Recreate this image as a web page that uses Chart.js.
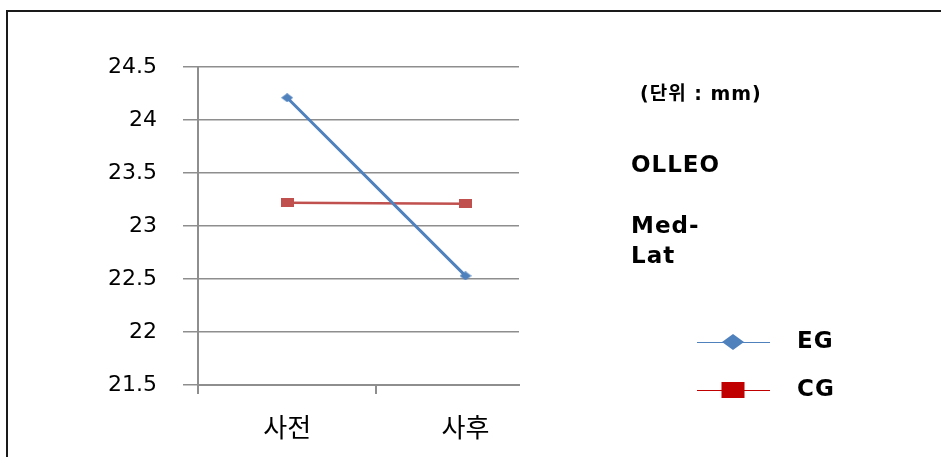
<!DOCTYPE html>
<html>
<head>
<meta charset="utf-8">
<script src="https://cdn.jsdelivr.net/npm/chart.js@4"></script>
<style>
  html, body { margin: 0; padding: 0; background: #fff; }
  #wrap { position: relative; width: 941px; height: 457px; overflow: hidden; }
  #frame { position: absolute; left: 6px; top: 10px; right: -10px; bottom: -10px;
           border-left: 2px solid #1a1a1a; border-top: 2px solid #1a1a1a; }
  #c { position: absolute; left: 0; top: 0; }
</style>
</head>
<body>
<div id="wrap">
  <div id="frame"></div>
  <canvas id="c" width="941" height="457"></canvas>
</div>
<script>
// ---- data ----
const categories = ['사전', '사후'];
const seriesNames = ['EG', 'CG'];
const egValues = [24.21, 22.53];
const cgValues = [23.22, 23.21];
const yTicks = [21.5, 22, 22.5, 23, 23.5, 24, 24.5];
const notes = ['(단위 : mm)', 'OLLEO', 'Med-', 'Lat'];

const blue = '#4F81BD';
const red = '#C0504D';
const legendRed = '#C00000';
const gridGray = '#8e8e8e';
const fontFam = "'DejaVu Sans', 'Noto Sans CJK KR', sans-serif";

function marker(w, h, color, shape) {
  const cv = document.createElement('canvas');
  cv.width = w; cv.height = h;
  const g = cv.getContext('2d');
  g.fillStyle = color;
  if (shape === 'diamond') {
    g.beginPath();
    g.moveTo(w / 2, 0); g.lineTo(w, h / 2); g.lineTo(w / 2, h); g.lineTo(0, h / 2);
    g.closePath(); g.fill();
  } else {
    g.fillRect(0, 0, w, h);
  }
  return cv;
}

const toPoints = vals => vals.map((v, i) => ({ x: i, y: v }));

const notesPlugin = {
  id: 'notes',
  afterDraw(chart) {
    const ctx = chart.ctx;
    ctx.save();
    ctx.fillStyle = '#000';
    ctx.textBaseline = 'middle';
    ctx.textAlign = 'left';
    if ('letterSpacing' in ctx) ctx.letterSpacing = '1px';
    ctx.font = "bold 19px " + fontFam;
    ctx.fillText(notes[0], 640, 95);
    ctx.font = "bold 23px " + fontFam;
    ctx.fillText(notes[1], 631, 166);
    ctx.fillText(notes[2], 631, 227);
    ctx.fillText(notes[3], 631, 257);

    // legend
    const items = [
      { y: 342, color: blue, shape: 'diamond', w: 22, h: 16 },
      { y: 390, color: legendRed, shape: 'rect', w: 23, h: 16 }
    ];
    chart.data.datasets.forEach((ds, i) => {
      const it = items[i];
      ctx.strokeStyle = i === 0 ? blue : legendRed;
      ctx.lineWidth = 1;
      ctx.beginPath();
      ctx.moveTo(697, it.y + 0.5); ctx.lineTo(770, it.y + 0.5);
      ctx.stroke();
      ctx.fillStyle = it.color;
      const cx = 733;
      if (it.shape === 'diamond') {
        ctx.beginPath();
        ctx.moveTo(cx, it.y - it.h / 2); ctx.lineTo(cx + it.w / 2, it.y);
        ctx.lineTo(cx, it.y + it.h / 2); ctx.lineTo(cx - it.w / 2, it.y);
        ctx.closePath(); ctx.fill();
      } else {
        ctx.fillRect(cx - it.w / 2, it.y - it.h / 2, it.w, it.h);
      }
      ctx.fillStyle = '#000';
      ctx.font = "bold 23px " + fontFam;
      ctx.fillText(ds.label, 797, it.y);
    });
    ctx.restore();
  }
};

new Chart(document.getElementById('c'), {
  type: 'line',
  data: {
    datasets: [
      {
        label: seriesNames[0],
        data: toPoints(egValues),
        borderColor: blue,
        backgroundColor: blue,
        borderWidth: 3,
        pointStyle: marker(12, 9, blue, 'diamond'),
        pointRadius: 6
      },
      {
        label: seriesNames[1],
        data: toPoints(cgValues),
        borderColor: red,
        backgroundColor: red,
        borderWidth: 2.5,
        pointStyle: marker(13, 9, red, 'rect'),
        pointRadius: 6
      }
    ]
  },
  options: {
    responsive: false,
    animation: false,
    devicePixelRatio: 1,
    layout: { padding: { left: 0, top: 67, right: 422, bottom: 0 } },
    plugins: { legend: { display: false }, tooltip: { enabled: false } },
    scales: {
      x: {
        type: 'linear',
        min: -0.5,
        max: 1.3,
        afterBuildTicks(scale) {
          scale.ticks = [-0.5, 0, 0.5, 1].map(v => ({ value: v }));
        },
        afterFit(scale) { scale.height = 72; },
        ticks: {
          autoSkip: false,
          maxRotation: 0,
          padding: 21,
          color: '#000',
          font: { family: fontFam, size: 26 },
          callback: v => (Number.isInteger(v) && categories[v] !== undefined) ? categories[v] : ''
        },
        grid: {
          drawOnChartArea: false,
          drawTicks: true,
          tickLength: 9,
          lineWidth: 2,
          color: ctx => (ctx.tick && Number.isInteger(ctx.tick.value)) ? 'rgba(0,0,0,0)' : gridGray
        },
        border: { display: true, color: gridGray, width: 2 }
      },
      y: {
        min: 21.5,
        max: 24.5,
        afterBuildTicks(scale) {
          scale.ticks = yTicks.map(v => ({ value: v }));
        },
        afterFit(scale) { scale.width = 198; },
        ticks: {
          padding: 26,
          color: '#000',
          font: { family: fontFam, size: 22 },
          callback: v => String(v)
        },
        grid: {
          color: gridGray,
          lineWidth: 1.5,
          drawTicks: true,
          tickLength: 15
        },
        border: { display: true, color: gridGray, width: 2 }
      }
    }
  },
  plugins: [notesPlugin]
});
</script>
</body>
</html>
